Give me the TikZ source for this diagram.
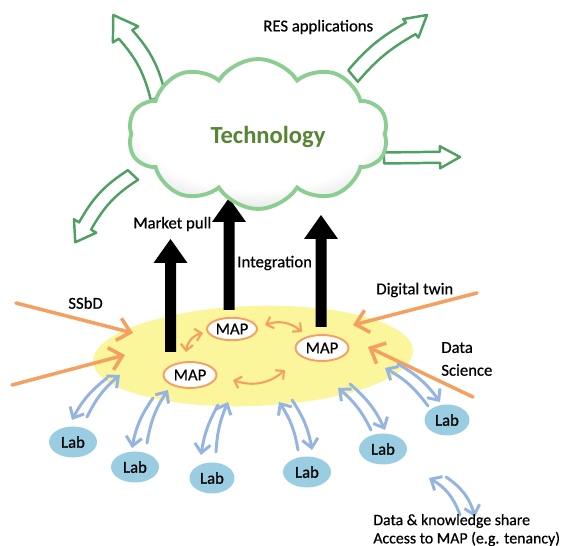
\documentclass[tikz,border=0pt]{standalone}
\usepackage{fontspec}
\setmainfont{Carlito}
\newfontfamily\lblfont[FakeBold=0.6]{Carlito}
\usetikzlibrary{shapes.symbols,shapes.geometric,arrows.meta}
\definecolor{cloudgreen}{HTML}{8CCD91}
\definecolor{arrowgreen}{HTML}{50A064}
\definecolor{techgreen}{HTML}{558732}
\definecolor{orng}{HTML}{F5A05F}
\definecolor{blu}{HTML}{96B4E1}
\definecolor{labblue}{HTML}{9ACDE2}
\definecolor{yel}{HTML}{FBF69C}
\pgfdeclareradialshading{cloudshade}{\pgfpoint{0bp}{9bp}}{color(0bp)=(white); color(24bp)=(white); color(38bp)=(black!22); color(46bp)=(black!38); color(60bp)=(black!40)}
\newcommand\hollowarrow[9]{%
  \begin{scope}[shift={(#1,-#2)},rotate=#3]
    \pgfmathsetmacro\hx{#4-#8}
    \pgfmathsetmacro\bo{-(#5)}
    \pgfmathsetmacro\bi{180+(#5)}
    \pgfmathsetmacro\ci{180-(#5)}
    \draw[garrow] (0,#6) to[out=\bo,in=\bi,relative] ({\hx+#6*cos(#9+90)},{#6*sin(#9+90)})
      -- ({\hx+#7*cos(#9+90)},{#7*sin(#9+90)}) -- ({\hx+#8*cos(#9)},{#8*sin(#9)})
      -- ({\hx+#7*cos(#9-90)},{#7*sin(#9-90)}) -- ({\hx+#6*cos(#9-90)},{#6*sin(#9-90)})
      to[out=#5,in=\ci,relative] (0,-#6) -- cycle;
  \end{scope}}
\newcommand\blackarrow[3]{%
  \fill[black] ({#1-5.5},-#2) -- ({#1-5.5},{-(#3+24)}) -- ({#1-17},{-(#3+24)}) -- (#1,-#3)
    -- ({#1+17},{-(#3+24)}) -- ({#1+5.5},{-(#3+24)}) -- ({#1+5.5},-#2) -- cycle;}
\tikzset{
  garrow/.style={draw=arrowgreen,line width=1.4pt,fill=white,line join=round},
  oarrow/.style={draw=orng,line width=2pt,line cap=round,-{Straight Barb[length=7pt,width=13pt]}},
  sarrow/.style={draw=orng,line width=1.2pt,line cap=round,{Straight Barb[length=3.5pt,width=7pt]}-{Straight Barb[length=3.5pt,width=7pt]}},
  barrow/.style={draw=blu,line width=1.7pt,line cap=round,-{Straight Barb[length=5pt,width=9pt]}},
  mapnode/.style={ellipse,draw=orng,line width=1.1pt,fill=white,inner sep=0pt,minimum width=1.06cm,minimum height=0.52cm,font=\lblfont\fontsize{9.5}{10}\selectfont},
  labnode/.style={ellipse,fill=labblue,inner sep=0pt,minimum width=0.96cm,minimum height=0.62cm,font=\lblfont\fontsize{9.5}{10}\selectfont},
  lbl/.style={inner sep=0pt,font=\lblfont\fontsize{9.5}{11}\selectfont,text=black}
}
\begin{document}
\begin{tikzpicture}[x=0.02cm,y=0.02cm]
\useasboundingbox (0,0) rectangle (565,-546);
% green hollow arrows
\hollowarrow{158}{97}{117.4}{93.5}{14}{8}{15}{23}{5}
\hollowarrow{353}{76}{39.5}{95.9}{-10}{7.5}{12}{21}{0}
\hollowarrow{384}{158}{0.75}{76}{0}{5.5}{11}{20}{0}
\hollowarrow{133}{175}{-133.2}{89}{14}{7}{13}{19}{12}
% yellow platform
\fill[yel,rotate around={2:(253,-356)}] (253,-356) ellipse [x radius=160,y radius=50];
% black arrows
\blackarrow{170.5}{352}{239}
\blackarrow{229}{310}{198}
\blackarrow{321}{327}{215}
% cloud
\node[cloud,cloud puffs=10,cloud puff arc=115,draw=cloudgreen,line width=2.2pt,shading=cloudshade,
      minimum width=5.2cm,minimum height=3.0cm,inner sep=0pt] (cloud) at (258,-134) {};
\node[inner sep=0pt,font=\fontsize{14}{16}\selectfont\bfseries,text=techgreen] (tech) at (268,-137) {Technology};
% MAP nodes
\node[mapnode] (map1) at (190,-375) {MAP};
\node[mapnode,minimum width=1.0cm,minimum height=0.45cm] (map2) at (232,-329) {MAP};
\node[mapnode] (map3) at (322,-348) {MAP};
% small orange arrows
\coordinate (s1a) at (186,-352); \coordinate (s1b) at (203,-333);
\coordinate (s2a) at (265,-325); \coordinate (s2b) at (302,-332);
\coordinate (s3a) at (233,-380); \coordinate (s3b) at (285,-370);
\draw[sarrow] (s1a) to[bend left=35] (s1b);
\draw[sarrow] (s2a) to[bend left=30] (s2b);
\draw[sarrow] (s3a) to[bend right=30] (s3b);
% orange input arrows
\coordinate (o1a) at (16,-303); \coordinate (o1b) at (133,-333);
\coordinate (o2a) at (12,-385); \coordinate (o2b) at (125,-355);
\coordinate (o3a) at (477,-293); \coordinate (o3b) at (353,-325);
\coordinate (o4a) at (473,-397); \coordinate (o4b) at (368,-347);
\draw[oarrow] (o1a) -- (o1b);
\draw[oarrow] (o2a) -- (o2b);
\draw[oarrow] (o3a) -- (o3b);
\draw[oarrow] (o4a) -- (o4b);
% labs
\node[labnode] (lab1) at (73,-442) {Lab};
\node[labnode] (lab2) at (135,-467) {Lab};
\node[labnode,minimum width=0.9cm] (lab3) at (212,-478) {Lab};
\node[labnode] (lab4) at (307,-472) {Lab};
\node[labnode] (lab5) at (383,-449) {Lab};
\node[labnode,minimum width=0.9cm] (lab6) at (447,-420) {Lab};
% blue arrows
\coordinate (u1a) at (87,-417); \coordinate (u1b) at (120,-375);
\coordinate (d1a) at (107,-378); \coordinate (d1b) at (72,-420);
\coordinate (u2a) at (147,-443); \coordinate (u2b) at (168,-390);
\coordinate (d2a) at (153,-398); \coordinate (d2b) at (132,-448);
\coordinate (u3a) at (216,-452); \coordinate (u3b) at (228,-402);
\coordinate (d3a) at (218,-405); \coordinate (d3b) at (201,-455);
\coordinate (u4a) at (298,-450); \coordinate (u4b) at (279,-402);
\coordinate (d4a) at (292,-400); \coordinate (d4b) at (312,-450);
\coordinate (u5a) at (371,-430); \coordinate (u5b) at (338,-388);
\coordinate (d5a) at (350,-384); \coordinate (d5b) at (385,-430);
\coordinate (u6a) at (428,-406); \coordinate (u6b) at (385,-368);
\coordinate (d6a) at (398,-364); \coordinate (d6b) at (440,-402);
\coordinate (ula) at (460,-515); \coordinate (ulb) at (429,-478);
\coordinate (dla) at (446,-477); \coordinate (dlb) at (475,-517);
\draw[barrow] (u1a) to[bend left=12] (u1b);
\draw[barrow] (d1a) to[bend right=12] (d1b);
\draw[barrow] (u2a) to[bend left=12] (u2b);
\draw[barrow] (d2a) to[bend right=12] (d2b);
\draw[barrow] (u3a) to[bend left=10] (u3b);
\draw[barrow] (d3a) to[bend right=10] (d3b);
\draw[barrow] (u4a) to[bend right=12] (u4b);
\draw[barrow] (d4a) to[bend left=12] (d4b);
\draw[barrow] (u5a) to[bend right=12] (u5b);
\draw[barrow] (d5a) to[bend left=12] (d5b);
\draw[barrow] (u6a) to[bend right=12] (u6b);
\draw[barrow] (d6a) to[bend left=12] (d6b);
\draw[barrow] (ula) to[bend right=20] (ulb);
\draw[barrow] (dla) to[bend left=20] (dlb);
% labels
\node[lbl,anchor=west] (res) at (263,-27) {RES applications};
\node[lbl,anchor=west] (mp) at (133,-224) {Market pull};
\node[lbl,anchor=west] (integ) at (237,-263) {Integration};
\node[lbl,anchor=west] (ssbd) at (68,-303) {SSbD};
\node[lbl,anchor=west] (dt) at (376,-290) {Digital twin};
\node[lbl,anchor=west,align=left] (ds) at (441,-359) {Data\\[2pt]Science};
\node[lbl,anchor=west,font=\lblfont\fontsize{9}{10}\selectfont] (leg1) at (373,-521) {Data \& knowledge share};
\node[lbl,anchor=west,font=\lblfont\fontsize{9}{10}\selectfont] (leg2) at (373,-539) {Access to MAP (e.g. tenancy)};
\end{tikzpicture}
\end{document}
